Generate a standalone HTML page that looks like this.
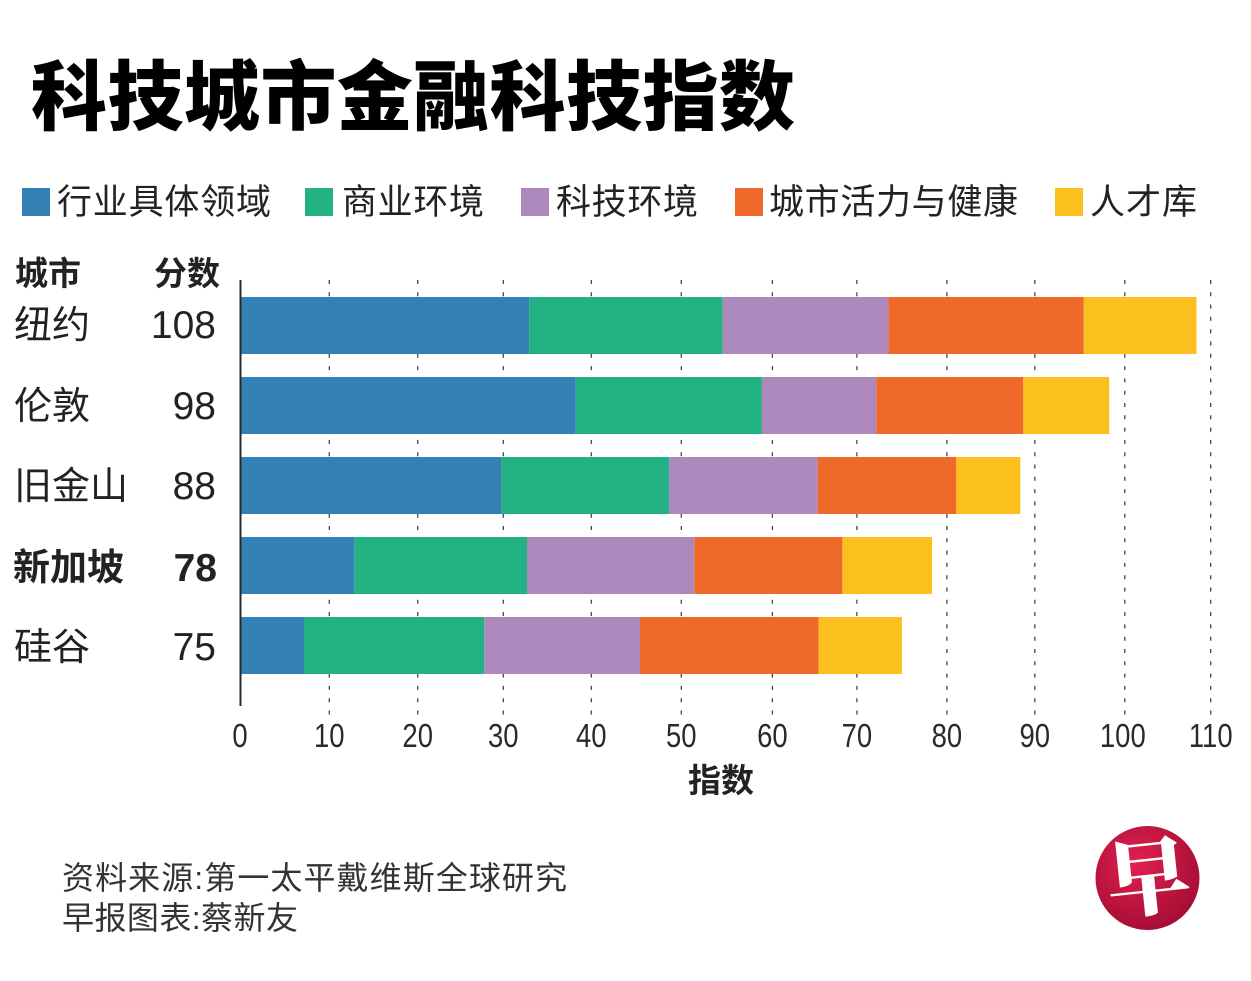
<!DOCTYPE html>
<html>
<head>
<meta charset="utf-8">
<style>
  html, body { margin: 0; padding: 0; background: #ffffff; }
  body { width: 1251px; height: 981px; overflow: hidden; }
  svg { display: block; }
  .cjk { font-family: "Liberation Sans", "Noto Sans CJK SC", sans-serif; }
  .num { font-family: "Liberation Sans", sans-serif; }
</style>
</head>
<body>
<svg width="1251" height="981" viewBox="0 0 1251 981" xmlns="http://www.w3.org/2000/svg">
  <defs>
    <radialGradient id="logoGrad" cx="40%" cy="35%" r="70%">
      <stop offset="0%" stop-color="#e0204f"/>
      <stop offset="100%" stop-color="#a30d33"/>
    </radialGradient>
  </defs>
  <rect x="0" y="0" width="1251" height="981" fill="#ffffff"/>

  <!-- Title -->
  <text class="cjk" x="31" y="124" font-size="76" font-weight="900" fill="#000" textLength="764" lengthAdjust="spacing">科技城市金融科技指数</text>

  <!-- Legend -->
  <g class="cjk" font-size="35" fill="#222">
    <rect x="22" y="188" width="28" height="28" fill="#3481b6"/>
    <text x="57" y="214" textLength="214" lengthAdjust="spacing">行业具体领域</text>
    <rect x="305" y="188" width="28" height="28" fill="#22b283"/>
    <text x="342" y="214" textLength="142" lengthAdjust="spacing">商业环境</text>
    <rect x="521" y="188" width="28" height="28" fill="#ac88bc"/>
    <text x="556" y="214" textLength="142" lengthAdjust="spacing">科技环境</text>
    <rect x="735" y="188" width="28" height="28" fill="#ef6a2a"/>
    <text x="769" y="214" textLength="249" lengthAdjust="spacing">城市活力与健康</text>
    <rect x="1055" y="188" width="28" height="28" fill="#fbbf1e"/>
    <text x="1090" y="214" textLength="107" lengthAdjust="spacing">人才库</text>
  </g>

  <!-- Column headers -->
  <g class="cjk" font-size="33" font-weight="700" fill="#222">
    <text x="15" y="285">城市</text>
    <text x="154" y="285">分数</text>
  </g>

  <!-- Gridlines (dashed) -->
  <g stroke="#444" stroke-width="1.3" stroke-dasharray="4 8.3">
    <line x1="329.3" y1="280" x2="329.3" y2="716"/>
    <line x1="417.7" y1="280" x2="417.7" y2="716"/>
    <line x1="503.3" y1="280" x2="503.3" y2="716"/>
    <line x1="591.3" y1="280" x2="591.3" y2="716"/>
    <line x1="681.3" y1="280" x2="681.3" y2="716"/>
    <line x1="772.4" y1="280" x2="772.4" y2="716"/>
    <line x1="856.9" y1="280" x2="856.9" y2="716"/>
    <line x1="946.9" y1="280" x2="946.9" y2="716"/>
    <line x1="1034.8" y1="280" x2="1034.8" y2="716"/>
    <line x1="1124.8" y1="280" x2="1124.8" y2="716"/>
    <line x1="1210.7" y1="280" x2="1210.7" y2="716"/>
  </g>

  <!-- Bars -->
  <g>
    <rect x="240" y="297" width="289.3" height="57" fill="#3481b6"/>
    <rect x="529.3" y="297" width="193.4" height="57" fill="#22b283"/>
    <rect x="722.7" y="297" width="165.7" height="57" fill="#ac88bc"/>
    <rect x="888.4" y="297" width="195.4" height="57" fill="#ef6a2a"/>
    <rect x="1083.8" y="297" width="112.7" height="57" fill="#fbbf1e"/>
  </g>
  <g>
    <rect x="240" y="377" width="335.7" height="57" fill="#3481b6"/>
    <rect x="575.7" y="377" width="186.2" height="57" fill="#22b283"/>
    <rect x="761.9" y="377" width="114.3" height="57" fill="#ac88bc"/>
    <rect x="876.2" y="377" width="147.1" height="57" fill="#ef6a2a"/>
    <rect x="1023.3" y="377" width="85.9" height="57" fill="#fbbf1e"/>
  </g>
  <g>
    <rect x="240" y="457" width="261.7" height="57" fill="#3481b6"/>
    <rect x="501.7" y="457" width="167.6" height="57" fill="#22b283"/>
    <rect x="669.3" y="457" width="148.4" height="57" fill="#ac88bc"/>
    <rect x="817.7" y="457" width="138.6" height="57" fill="#ef6a2a"/>
    <rect x="956.3" y="457" width="64" height="57" fill="#fbbf1e"/>
  </g>
  <g>
    <rect x="240" y="537" width="114.3" height="57" fill="#3481b6"/>
    <rect x="354.3" y="537" width="172.7" height="57" fill="#22b283"/>
    <rect x="527" y="537" width="167.3" height="57" fill="#ac88bc"/>
    <rect x="694.3" y="537" width="148.1" height="57" fill="#ef6a2a"/>
    <rect x="842.4" y="537" width="89.6" height="57" fill="#fbbf1e"/>
  </g>
  <g>
    <rect x="240" y="617" width="64" height="57" fill="#3481b6"/>
    <rect x="304" y="617" width="180.3" height="57" fill="#22b283"/>
    <rect x="484.3" y="617" width="155.7" height="57" fill="#ac88bc"/>
    <rect x="640" y="617" width="178.7" height="57" fill="#ef6a2a"/>
    <rect x="818.7" y="617" width="83.2" height="57" fill="#fbbf1e"/>
  </g>

  <!-- Y axis line -->
  <line x1="240.5" y1="280" x2="240.5" y2="706" stroke="#2a2a2a" stroke-width="2"/>

  <!-- City labels -->
  <g class="cjk" font-size="38" fill="#222">
    <text x="14" y="338">纽约</text>
    <text x="14" y="419">伦敦</text>
    <text x="14" y="499">旧金山</text>
    <text x="13" y="580" font-weight="700" font-size="37">新加坡</text>
    <text x="14" y="660">硅谷</text>
  </g>

  <!-- Scores -->
  <g class="num" font-size="39" fill="#222" text-anchor="end">
    <text x="216" y="338">108</text>
    <text x="216" y="419">98</text>
    <text x="216" y="499">88</text>
    <text x="217" y="581" font-weight="700">78</text>
    <text x="216" y="660">75</text>
  </g>

  <!-- X tick labels (condensed) -->
  <g class="num" font-size="33.5" fill="#2a2a2a" text-anchor="middle">
    <text transform="translate(240,747) scale(0.82,1)">0</text>
    <text transform="translate(329.3,747) scale(0.82,1)">10</text>
    <text transform="translate(417.7,747) scale(0.82,1)">20</text>
    <text transform="translate(503.3,747) scale(0.82,1)">30</text>
    <text transform="translate(591.3,747) scale(0.82,1)">40</text>
    <text transform="translate(681.3,747) scale(0.82,1)">50</text>
    <text transform="translate(772.4,747) scale(0.82,1)">60</text>
    <text transform="translate(856.9,747) scale(0.82,1)">70</text>
    <text transform="translate(946.9,747) scale(0.82,1)">80</text>
    <text transform="translate(1034.8,747) scale(0.82,1)">90</text>
    <text transform="translate(1122.8,747) scale(0.82,1)">100</text>
    <text transform="translate(1210.7,747) scale(0.82,1)">110</text>
  </g>

  <!-- X axis title -->
  <text class="cjk" x="721" y="792" font-size="33" font-weight="700" fill="#222" text-anchor="middle">指数</text>

  <!-- Footer -->
  <g class="cjk" font-size="32" fill="#333">
    <text x="62" y="889" textLength="505" lengthAdjust="spacing">资料来源:第一太平戴维斯全球研究</text>
    <text x="62" y="929" textLength="236" lengthAdjust="spacing">早报图表:蔡新友</text>
  </g>

  <!-- Logo -->
  <circle cx="1147.5" cy="878" r="52" fill="url(#logoGrad)"/>
  <text x="1148" y="908" font-family="'Noto Serif CJK SC', 'Noto Sans CJK SC', serif" font-size="84" font-weight="900" fill="#ffffff" text-anchor="middle" transform="rotate(-6 1148 878)">早</text>
</svg>
</body>
</html>
